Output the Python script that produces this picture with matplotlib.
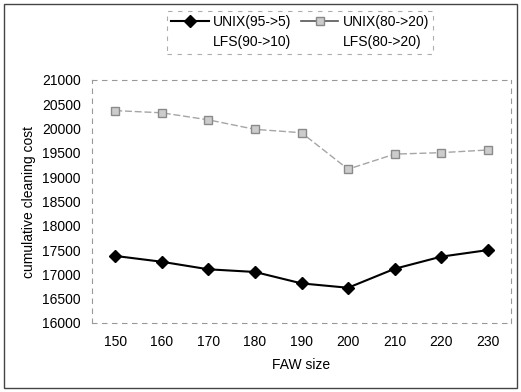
import matplotlib
matplotlib.use("Agg")
import matplotlib.pyplot as plt
from matplotlib.lines import Line2D
from matplotlib.patches import Rectangle

plt.rcParams['font.family'] = ['Liberation Sans', 'DejaVu Sans']

faw_sizes = [150, 160, 170, 180, 190, 200, 210, 220, 230]
unix_95_5 = [17380, 17260, 17105, 17050, 16815, 16725, 17115, 17365, 17500]
unix_80_20 = [20370, 20325, 20180, 19985, 19915, 19165, 19475, 19505, 19560]
labels = ['UNIX(95->5)', 'LFS(90->10)', 'UNIX(80->20)', 'LFS(80->20)']
y_ticks = [16000, 16500, 17000, 17500, 18000, 18500, 19000, 19500, 20000, 20500, 21000]

fig = plt.figure(figsize=(5.21, 3.92), dpi=100)
ax = fig.add_axes([92/521, 1-323/392, (511-92)/521, (323-80)/392])

xs = list(range(len(faw_sizes)))
l1, = ax.plot(xs, unix_95_5, color='black', lw=1.5, marker='D', ms=6,
              markerfacecolor='black', markeredgecolor='black')
l2, = ax.plot(xs, unix_80_20, color='#a5a5a5', lw=1.0, ls=(0, (5, 2)),
              marker='s', ms=6, markerfacecolor='#cccccc', markeredgecolor='#8a8a8a')

ax.set_xlim(-0.5, len(faw_sizes) - 0.5)
ax.set_ylim(16000, 21000)
ax.set_xticks(xs)
ax.set_xticklabels([str(v) for v in faw_sizes], fontsize=10)
ax.set_yticks(y_ticks)
ax.set_yticklabels([str(v) for v in y_ticks], fontsize=10)
ax.tick_params(length=0, pad=9)
ax.tick_params(axis='y', pad=8)
for s in ax.spines.values():
    s.set_linestyle((0, (4, 5)))
    s.set_color('#999999')
    s.set_linewidth(0.8)

ax.set_xlabel('FAW size', fontsize=10, labelpad=6)
ax.set_ylabel('cumulative cleaning cost', fontsize=10, labelpad=4)

blank = Line2D([], [], color='none', marker=None)
leg = fig.legend([l1, blank, Line2D([], [], color='#555555', lw=1.2, marker='s', ms=6,
                                    markerfacecolor='#cccccc', markeredgecolor='#888888'), blank],
                 labels, ncol=2, loc='upper left',
                 bbox_to_anchor=(160/521, 1-4/392), fontsize=10, frameon=True,
                 fancybox=False, handlelength=2.7, handletextpad=0.3,
                 columnspacing=0.7, borderpad=0.3, labelspacing=0.45)
fr = leg.get_frame()
fr.set_edgecolor('#999999')
fr.set_linestyle((0, (4, 5)))
fr.set_linewidth(0.8)

fig.patches.append(Rectangle((4/521, 4/392), 1-8/521, 1-8/392, transform=fig.transFigure,
                             fill=False, edgecolor='#444444', lw=1.0))

fig.savefig('out.png', dpi=100)
